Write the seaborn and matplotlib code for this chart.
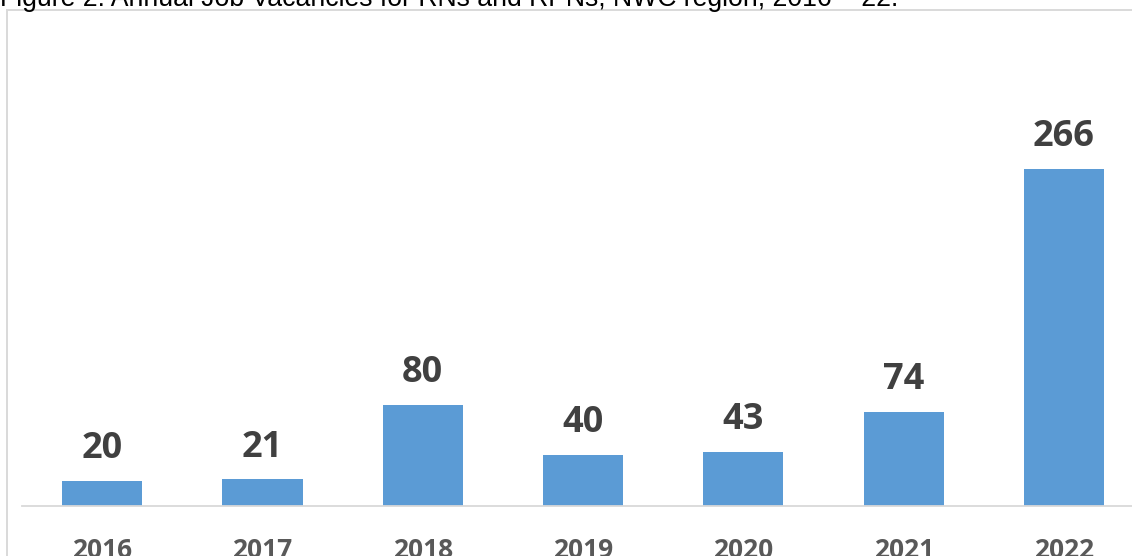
import matplotlib
matplotlib.use("Agg")
import matplotlib.pyplot as plt
import seaborn as sns
import pandas as pd
from matplotlib.patches import Rectangle

years = ["2016", "2017", "2018", "2019", "2020", "2021", "2022"]
vacancies = [20, 21, 80, 40, 43, 74, 266]
title = "Figure 2: Annual Job Vacancies for RNs and RPNs, NWC region, 2016 \u2013 22."

sns.set_theme(style="white")
plt.rcParams["font.family"] = ["Open Sans", "DejaVu Sans"]

W, H = 1132, 556
fig = plt.figure(figsize=(W / 100, H / 100), dpi=100)
fig.patch.set_facecolor("white")

# outer chart frame (extends beyond the crop on the right and bottom)
frame = Rectangle((7 / W, -0.1), 1.2, 1 - 10 / H + 0.1, transform=fig.transFigure,
                  fill=False, edgecolor="#d9d9d9", linewidth=1.4, zorder=0)
fig.patches.append(frame)

left = 22 / W
width = 7 * 160.3 / W
bottom = (H - 506) / H
top = (H - 12) / H
ax = fig.add_axes([left, bottom, width, top - bottom])
ax.set_facecolor("none")

df = pd.DataFrame({"year": years, "vac": vacancies})
sns.barplot(data=df, x="year", y="vac", color="#5B9BD5", saturation=1,
            width=0.5, ax=ax, edgecolor="none")
ax.set_xlim(-0.5, 6.5)
ax.set_ylim(0, 494 / 1.267)

for c in ax.containers:
    ax.bar_label(c, labels=[str(v) for v in vacancies], padding=10,
                 fontsize=26, fontweight="bold", color="#404040")

for s in ["left", "right", "top"]:
    ax.spines[s].set_visible(False)
ax.spines["bottom"].set_color("#d9d9d9")
ax.spines["bottom"].set_linewidth(1.3)
ax.set_yticks([])
ax.set_xlabel("")
ax.set_ylabel("")
ax.tick_params(axis="x", length=0, pad=22, labelsize=19, colors="#595959")
for t in ax.get_xticklabels():
    t.set_fontweight("bold")

# title, partially cut off at the top of the crop (as in the reference)
t = fig.text(0.0, 1 - 6 / H, title, fontsize=19, color="black",
             family=["Liberation Sans", "DejaVu Sans"], va="baseline", ha="left")
fig.canvas.draw()
bb = t.get_window_extent()
t.set_fontsize(19 * 900 / bb.width)

fig.savefig("out.png", dpi=100)
